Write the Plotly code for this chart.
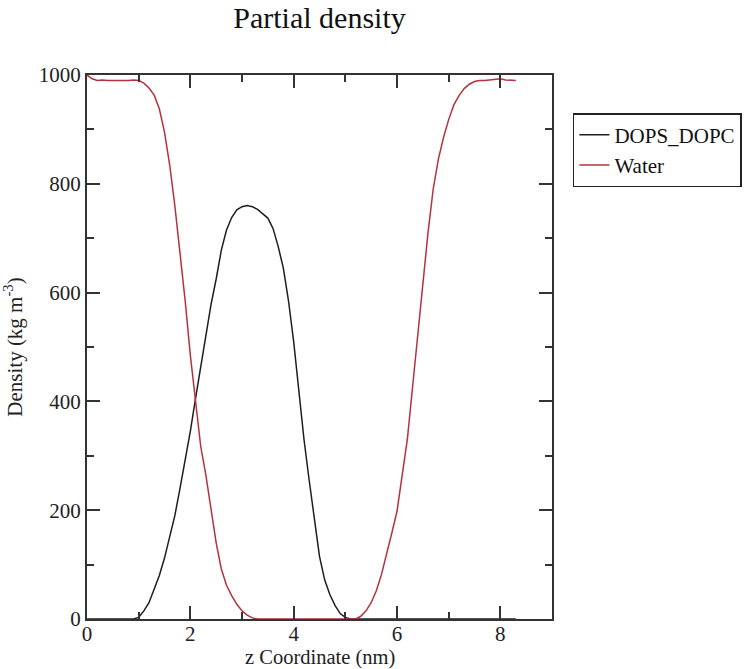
import plotly.graph_objects as go

# z coordinate (nm) sample points
z_nm = [round(0.1 * i, 1) for i in range(84)]  # 0.0 .. 8.3

dops_dopc = [
    0, 0, 0, 0, 0, 0, 0, 0, 0, 0,            # 0.0-0.9
    3, 15, 30, 55, 80, 112, 150, 190, 240, 290,   # 1.0-1.9
    345, 405, 465, 525, 578, 625, 678, 715, 738, 752,  # 2.0-2.9
    758, 760, 758, 753, 745, 737, 718, 685, 645, 585,  # 3.0-3.9
    510, 420, 330, 255, 180, 115, 72, 45, 25, 10,      # 4.0-4.9
    3, 0, 0, 0, 0, 0, 0, 0, 0, 0,                      # 5.0-5.9
    0, 0, 0, 0, 0, 0, 0, 0, 0, 0,                      # 6.0-6.9
    0, 0, 0, 0, 0, 0, 0, 0, 0, 0,                      # 7.0-7.9
    0, 0, 0, 0,                                        # 8.0-8.3
]

water = [
    1000, 993, 990, 991, 990, 990, 989, 990, 990, 991,   # 0.0-0.9
    990, 985, 976, 963, 938, 895, 835, 760, 675, 585,    # 1.0-1.9
    485, 395, 318, 265, 200, 140, 92, 62, 43, 27,        # 2.0-2.9
    15, 7, 2, 0, 0, 0, 0, 0, 0, 0,                       # 3.0-3.9
    0, 0, 0, 0, 0, 0, 0, 0, 0, 0,                        # 4.0-4.9
    0, 0, 0, 5, 15, 30, 52, 82, 118, 158,                # 5.0-5.9
    198, 260, 330, 425, 520, 615, 710, 790, 845, 885,    # 6.0-6.9
    918, 945, 962, 975, 983, 988, 990, 990, 991, 991,    # 7.0-7.9
    993, 991, 990, 990,                                  # 8.0-8.3
]

series_names = ["DOPS_DOPC", "Water"]
x_ticks = [0, 2, 4, 6, 8]
y_ticks = [0, 200, 400, 600, 800, 1000]
x_title = "z Coordinate (nm)"
y_title = "Density (kg m<sup>-3</sup>)"

FONT = "Liberation Serif, Times New Roman, serif"
AXC = "#333333"

fig = go.Figure()
fig.add_trace(go.Scatter(x=z_nm, y=dops_dopc, mode="lines", name=series_names[0],
                         line=dict(color="#1e1e1e", width=1.5)))
fig.add_trace(go.Scatter(x=z_nm, y=water, mode="lines", name=series_names[1],
                         line=dict(color="#b4323f", width=1.5)))

axis_common = dict(
    showline=True, linecolor=AXC, linewidth=2, mirror="ticks",
    ticks="inside", ticklen=13, tickwidth=2, tickcolor=AXC,
    showgrid=False, zeroline=False, automargin=False, layer="above traces",
    tickfont=dict(family=FONT, size=21, color="#222222"),
)

fig.update_xaxes(range=[0, 9], tickvals=x_ticks, ticklabelstandoff=-5,
                 minor=dict(dtick=1, ticks="inside", ticklen=7, tickwidth=2, tickcolor=AXC, showgrid=False),
                 **axis_common)
fig.update_yaxes(range=[0, 1000], tickvals=y_ticks,
                 minor=dict(dtick=100, ticks="inside", ticklen=7, tickwidth=2, tickcolor=AXC, showgrid=False),
                 title=dict(text=y_title, font=dict(family=FONT, size=21, color="#222222"), standoff=18),
                 **axis_common)

fig.add_annotation(text=x_title, xref="paper", yref="paper", x=0.5, y=-(657 - 619) / 544,
                   xanchor="center", yanchor="middle", showarrow=False, borderpad=0,
                   font=dict(family=FONT, size=20.5, color="#222222"))

fig.update_layout(
    width=750, height=669,
    margin=dict(l=87, r=198, t=75, b=50, autoexpand=False),
    paper_bgcolor="white", plot_bgcolor="white",
    title=dict(text="Partial density", x=0.5, xref="paper", y=1 - 17 / 669, yref="container",
               xanchor="center", yanchor="middle",
               font=dict(family=FONT, size=30, color="#111111")),
    legend=dict(x=1.045, y=0.93, xanchor="left", yanchor="top",
                bordercolor="#222222", borderwidth=1.5, bgcolor="white",
                font=dict(family=FONT, size=21, color="#111111"),
                itemwidth=30, tracegroupgap=0),
    showlegend=True,
)

fig.write_html("out.html",
               config={"displayModeBar": False},
               post_script="document.body.style.margin='0';document.body.style.overflow='hidden';")
